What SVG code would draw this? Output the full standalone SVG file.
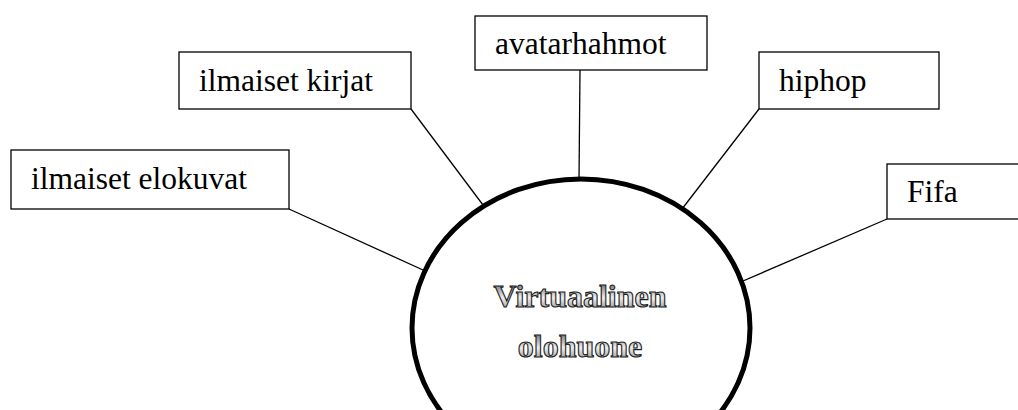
<svg xmlns="http://www.w3.org/2000/svg" width="1018" height="410" viewBox="0 0 1018 410">
  <defs>
    <linearGradient id="txtGrad" x1="0" y1="0" x2="0" y2="1">
      <stop offset="0" stop-color="#444"/>
      <stop offset="0.55" stop-color="#f0f0f0"/>
      <stop offset="1" stop-color="#777"/>
    </linearGradient>
  </defs>
  <style>
    .box { fill: #fff; stroke: #000; stroke-width: 1.3; }
    .lbl { font-family: "Liberation Serif", "Times New Roman", serif; font-size: 31.5px; fill: #000; }
    .conn { stroke: #000; stroke-width: 1.3; fill: none; }
    .hub { fill: #fff; stroke: #000; stroke-width: 5; }
    .title { font-family: "Liberation Serif", "Times New Roman", serif; font-size: 32px; font-weight: bold; fill: url(#txtGrad); stroke: #222; stroke-width: 1.1; text-anchor: middle; }
  </style>
  <rect width="1018" height="410" fill="#fff"/>
  <g id="connectors">
    <line class="conn" x1="289" y1="209" x2="423" y2="270"/>
    <line class="conn" x1="411" y1="109" x2="486" y2="209"/>
    <line class="conn" x1="580" y1="70" x2="579" y2="180"/>
    <line class="conn" x1="759" y1="109" x2="682" y2="209"/>
    <line class="conn" x1="887" y1="219" x2="736" y2="284"/>
  </g>
  <g id="hub">
    <ellipse class="hub" cx="581" cy="328" rx="169" ry="149"/>
    <text class="title" x="580" y="307">Virtuaalinen</text>
    <text class="title" x="580" y="357">olohuone</text>
  </g>
  <g id="n-elokuvat">
    <rect class="box" x="11" y="150" width="278" height="59"/>
    <text class="lbl" x="31" y="189">ilmaiset elokuvat</text>
  </g>
  <g id="n-kirjat">
    <rect class="box" x="179" y="52" width="232" height="57"/>
    <text class="lbl" x="199" y="91">ilmaiset kirjat</text>
  </g>
  <g id="n-avatar">
    <rect class="box" x="475" y="16" width="232" height="54"/>
    <text class="lbl" x="495" y="54">avatarhahmot</text>
  </g>
  <g id="n-hiphop">
    <rect class="box" x="759" y="52" width="180" height="57"/>
    <text class="lbl" x="779" y="91">hiphop</text>
  </g>
  <g id="n-fifa">
    <rect class="box" x="887" y="164" width="140" height="55"/>
    <text class="lbl" x="907" y="202">Fifa</text>
  </g>
</svg>
